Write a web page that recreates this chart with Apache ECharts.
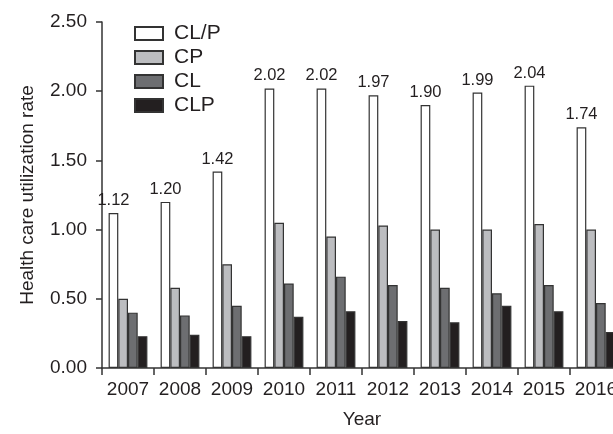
<!DOCTYPE html>
<html>
<head>
<meta charset="utf-8">
<script src="https://cdn.jsdelivr.net/npm/echarts@6/dist/echarts.min.js"></script>
<style>html,body{margin:0;padding:0;background:#fff;overflow:hidden}#c{width:640px;height:434px}</style>
</head>
<body>
<div id="c"></div>
<script>
const years = ['2007','2008','2009','2010','2011','2012','2013','2014','2015','2016'];
const seriesNames = ['CL/P','CP','CL','CLP'];
const clp_ratio = [1.12, 1.20, 1.42, 2.02, 2.02, 1.97, 1.90, 1.99, 2.04, 1.74];
const cp = [0.50, 0.58, 0.75, 1.05, 0.95, 1.03, 1.00, 1.00, 1.04, 1.00];
const cl = [0.40, 0.38, 0.45, 0.61, 0.66, 0.60, 0.58, 0.54, 0.60, 0.47];
const clp = [0.23, 0.24, 0.23, 0.37, 0.41, 0.34, 0.33, 0.45, 0.41, 0.26];
const yTicks = [0, 0.5, 1.0, 1.5, 2.0, 2.5];

const FONT = 'Liberation Sans, Arial, Helvetica, sans-serif';
const TXT = '#231f20';
const colors = ['#ffffff', '#bcbdc0', '#6d6e71', '#231f20'];
const datasets = [clp_ratio, cp, cl, clp];

const chart = echarts.init(document.getElementById('c'), null, {renderer: 'canvas'});
chart.setOption({
  animation: false,
  backgroundColor: '#fff',
  textStyle: {fontFamily: FONT, color: TXT},
  legend: {
    orient: 'vertical',
    left: 129,
    top: 18,
    itemWidth: 28,
    itemHeight: 13,
    itemGap: 3,
    icon: 'rect',
    data: seriesNames,
    textStyle: {fontFamily: FONT, fontSize: 21, color: TXT, lineHeight: 20, padding: [0, 0, 0, 6]}
  },
  grid: {left: 102, top: 22, width: 520, height: 351, containLabel: false},
  xAxis: {
    type: 'category',
    data: years,
    name: 'Year',
    nameLocation: 'middle',
    nameGap: 42,
    nameTextStyle: {fontFamily: FONT, fontSize: 19, color: TXT},
    axisLine: {lineStyle: {color: '#333', width: 1.5}},
    axisTick: {show: true, length: 7, lineStyle: {color: '#333', width: 1.5}},
    axisLabel: {fontFamily: FONT, fontSize: 19, color: TXT, margin: 12, interval: 0}
  },
  yAxis: {
    type: 'value',
    min: 0,
    max: 2.5,
    interval: 0.5,
    name: 'Health care utilization rate',
    nameLocation: 'middle',
    nameGap: 65,
    nameTextStyle: {fontFamily: FONT, fontSize: 19, color: TXT},
    axisLine: {show: true, lineStyle: {color: '#333', width: 1.5}},
    axisTick: {show: true, length: 6, lineStyle: {color: '#333', width: 1.5}},
    splitLine: {show: false},
    axisLabel: {fontFamily: FONT, fontSize: 19, color: TXT, margin: 15,
      formatter: v => yTicks.includes(v) ? v.toFixed(2) : ''}
  },
  series: seriesNames.map((n, i) => ({
    name: n,
    type: 'bar',
    data: datasets[i],
    barWidth: 9.7,
    barGap: '0%',
    itemStyle: {color: colors[i], borderColor: '#333', borderWidth: 1.2},
    label: i === 0 ? {
      show: true, position: 'top', distance: 4,
      fontFamily: FONT, fontSize: 16.5, color: TXT,
      formatter: p => p.value.toFixed(2)
    } : {show: false}
  }))
});
</script>
</body>
</html>
